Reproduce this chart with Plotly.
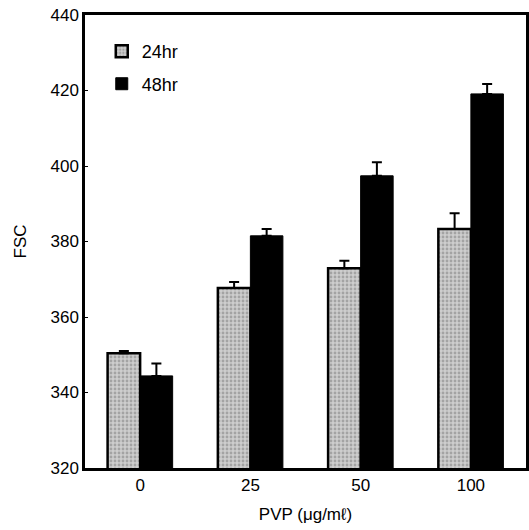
import plotly.graph_objects as go

categories = ["0", "25", "50", "100"]
fsc_24hr = [350.4, 367.7, 372.9, 383.3]
err_24hr = [0.6, 1.6, 2.0, 4.2]
fsc_48hr = [344.4, 381.5, 397.4, 419.1]
err_48hr = [3.3, 1.8, 3.6, 2.6]
y_ticks = [320, 340, 360, 380, 400, 420, 440]

font_family = "Liberation Sans, Arial, sans-serif"

fig = go.Figure()
fig.add_trace(go.Bar(
    name="24hr", x=categories, y=fsc_24hr, legendgroup="a",
    marker=dict(color="#bcbcbc", line=dict(color="black", width=2.5),
                pattern=dict(shape=".", fgcolor="#7a7a7a", bgcolor="#cdcdcd", size=4, solidity=0.4)),
    error_y=dict(type="data", symmetric=False, array=err_24hr, arrayminus=[0]*4,
                 color="black", thickness=2, width=5),
))
fig.add_trace(go.Bar(
    name="48hr", x=categories, y=fsc_48hr, legendgroup="b",
    marker=dict(color="black", line=dict(color="black", width=1)),
    error_y=dict(type="data", symmetric=False, array=err_48hr, arrayminus=[0]*4,
                 color="black", thickness=2, width=5),
))

fig.update_layout(
    width=529, height=530,
    margin=dict(l=85, r=0, t=15, b=62),
    plot_bgcolor="white", paper_bgcolor="white",
    barmode="group", bargap=0.41, bargroupgap=0,
    font=dict(family=font_family, size=17, color="black"),
    showlegend=True,
    legend=dict(x=0.038, y=0.96, xanchor="left", yanchor="top",
                bgcolor="rgba(0,0,0,0)", font=dict(size=18, color="black"),
                itemwidth=30, traceorder="grouped", tracegroupgap=6),
    xaxis=dict(
        type="category", range=[-0.5, 3.5],
        showline=True, linecolor="black", linewidth=2.5, mirror=True,
        ticks="", showgrid=False,
        title=dict(text="PVP (\u03bcg/m\u2113)", font=dict(size=17), standoff=14),
    ),
    yaxis=dict(
        range=[320, 440], tickvals=y_ticks,
        showline=True, linecolor="black", linewidth=2.5, mirror=True,
        ticks="inside", ticklen=3, tickcolor="black", showgrid=False, zeroline=False,
        title=dict(text="FSC", font=dict(size=17), standoff=20),
    ),
)

fig.write_html("out.html", config={"displayModeBar": False},
               post_script="document.body.style.margin='0';")
